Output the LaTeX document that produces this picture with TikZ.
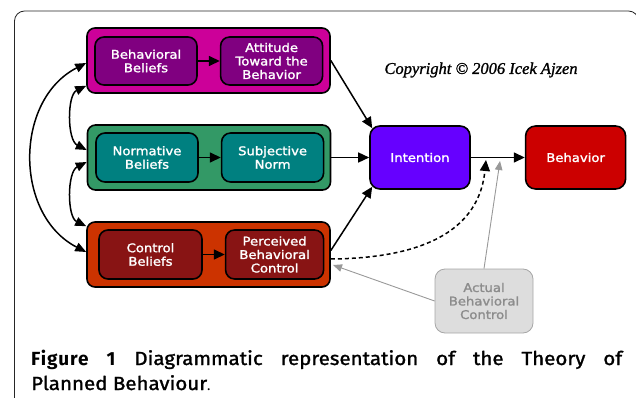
\documentclass[tikz,border=0pt]{standalone}
\usepackage{fontspec}
\usetikzlibrary{arrows.meta,shapes,positioning,calc}
\newfontfamily\boxfont[FakeStretch=1.1,FakeBold=1.6]{DejaVu Sans}
\newfontfamily\copyfont[FakeBold=1.2]{Liberation Serif}
\newfontfamily\capfont[LetterSpace=5]{Fira Sans}
\newfontfamily\capmid[FakeStretch=1.08,FakeBold=1.5]{Fira Sans}

\definecolor{magout}{RGB}{204,0,153}
\definecolor{magin}{RGB}{128,0,128}
\definecolor{grnout}{RGB}{51,153,102}
\definecolor{grnin}{RGB}{0,128,128}
\definecolor{oraout}{RGB}{204,51,0}
\definecolor{orain}{RGB}{136,20,20}
\definecolor{intcol}{RGB}{102,0,255}
\definecolor{behcol}{RGB}{204,0,0}
\definecolor{actfill}{RGB}{221,221,221}

\tikzset{
  outer/.style={draw, line width=1.6pt, rounded corners=8pt, minimum width=243pt, minimum height=65pt},
  inner/.style={draw, line width=1.6pt, rounded corners=9pt, minimum width=102pt, minimum height=48pt,
    inner sep=0pt, text=white, align=center, font=\boxfont\fontsize{12}{13.5}\selectfont},
  link/.style={-{Triangle[length=11pt,width=10pt]}, line width=1.5pt},
  dlink/.style={{Triangle[length=11pt,width=9pt]}-{Triangle[length=11pt,width=9pt]}, line width=1.5pt},
  glink/.style={-{Triangle[length=9pt,width=7.5pt]}, line width=0.9pt, color=black!40},
}

\begin{document}
\begin{tikzpicture}[x=1pt, y=-1pt]
\useasboundingbox (0,0) rectangle (636,398);
\clip (0,0) rectangle (636,398);
\draw [line width=0.8pt, color=black!85, rounded corners=10pt] (14.5,405) -- (14.5,11) -- (638.5,11) -- (638.5,405);

% attitude
\node [outer, fill=magout] (mag) at (208.5,60.5) {};
\node [inner, fill=magin] (bb) at (146,61) {Behavioral\\Beliefs};
\node [inner, fill=magin] (att) [right=22pt of bb] {Attitude\\Toward the\\Behavior};

% norm
\node [outer, fill=grnout] (grn) at (209,157.5) {};
\node [inner, fill=grnin, minimum height=49pt] (nb) at (147,157.5) {Normative\\Beliefs};
\node [inner, fill=grnin, minimum height=49pt] (sn) [right=22pt of nb] {Subjective\\Norm};

% control
\node [outer, fill=oraout] (ora) at (208.5,254.5) {};
\node [inner, fill=orain, minimum width=103pt, minimum height=49pt] (cb) at (150.5,254.5) {Control\\Beliefs};
\node [inner, fill=orain, minimum width=98pt, minimum height=49pt] (pbc) [right=22pt of cb] {Perceived\\Behavioral\\Control};

\node [inner, fill=intcol, minimum width=100pt, minimum height=63pt, rounded corners=10pt] (int) at (420,157.5) {Intention};
\node [inner, fill=behcol, minimum width=100pt, minimum height=63pt, rounded corners=10pt] (beh) [right=54pt of int] {Behavior};
\node [inner, fill=actfill, draw=black!35, line width=0.8pt, text=black!45, minimum width=98pt, minimum height=64pt, rounded corners=10pt] (act) at (484,301) {Actual\\Behavioral\\Control};

\node [font=\copyfont\itshape\fontsize{16.5}{18}\selectfont] (copy) at (481,70) {Copyright \textcopyright{} 2006 Icek Ajzen};

\coordinate (dtip) at (486,160);
\coordinate (gtip) at (500,161);
\coordinate (ptip) at (333,265);

\draw [link] (bb) -- (att);
\draw [link] (nb) -- (sn);
\draw [link] (cb) -- (pbc);
\draw [link] (mag.east) -- ([shift={(3,3)}]int.north west);
\draw [link] (grn.east) -- (int.west);
\draw [link] ([yshift=4pt]ora.east) -- ([shift={(3,-3)}]int.south west);
\draw [link] (int) -- (beh);
\draw [link, dash pattern=on 4pt off 3pt] ([yshift=-4.5pt]ora.east) .. controls (440,258) and (480,220) .. (dtip);
\draw [glink] (act.north) -- (gtip);
\draw [glink] (act.west) -- (ptip);

\draw [dlink] ([yshift=-2.5pt]mag.west) .. controls (14,100) and (14,215) .. ([yshift=2.5pt]ora.west);
\draw [dlink] ([yshift=8pt]mag.south west) .. controls (67,95) and (67,140) .. ([yshift=7.5pt]grn.west);
\draw [dlink] ([yshift=-4.5pt]grn.west) .. controls (67,172) and (67,217) .. ([yshift=-5pt]ora.north west);

% caption
\node [anchor=base west, inner sep=0pt, font=\fontsize{19}{22}\selectfont] (cap1) at (31,365)
  {\makebox[591pt][s]{{\capfont\bfseries Figure 1} \capmid Diagrammatic representation of the Theory of}};
\node [anchor=base west, inner sep=0pt, font=\fontsize{19}{22}\selectfont] (cap2) at (31,390)
  {\capmid Planned Behaviour{\capfont\fontsize{14}{16}\selectfont.}};
\end{tikzpicture}
\end{document}
